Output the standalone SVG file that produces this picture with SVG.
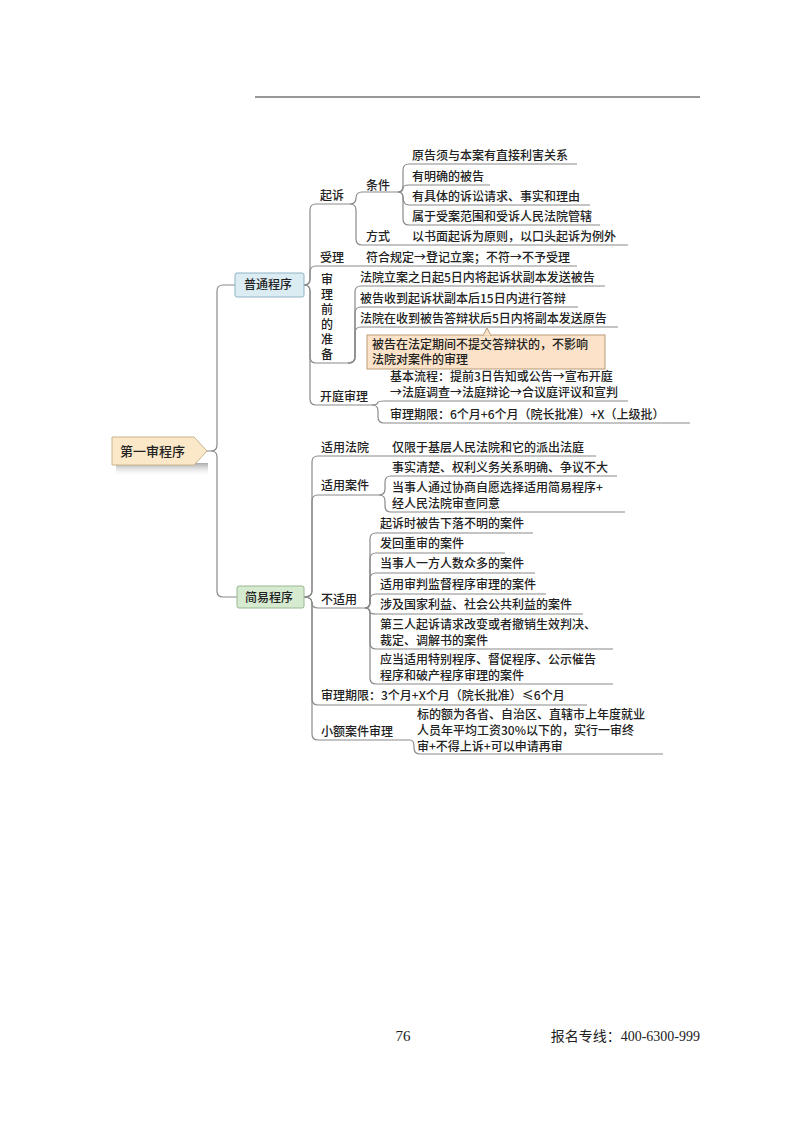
<svg xmlns="http://www.w3.org/2000/svg" width="800" height="1124" viewBox="0 0 800 1124">
<style>
text{font-family:"Noto Sans CJK SC","Noto Sans",sans-serif;font-size:12px;fill:#222;font-weight:500}
.c{fill:none;stroke:#8a8a8a;stroke-width:1.2}
</style>
<defs>
<linearGradient id="sh" x1="0" y1="0" x2="0" y2="1"><stop offset="0" stop-color="#aaa"/><stop offset="1" stop-color="#fff" stop-opacity="0"/></linearGradient>
</defs>
<rect width="800" height="1124" fill="#fff"/>
<line x1="255" y1="97" x2="700" y2="97" stroke="#333" stroke-width="1"/>
<g id="connectors">
<path class="c" d="M206 451 H211 Q217 451 217 445 V291 Q217 285 223 285 H235"/>
<path class="c" d="M211 451 Q217 451 217 457 V591 Q217 597 223 597 H237"/>
<path class="c" d="M304 285 Q310 285 310 279 V210 Q310 204 316 204 H350"/>
<path class="c" d="M304 285 Q310 285 310 279 V272 Q310 266 316 266 H577"/>
<path class="c" d="M304 285 Q310 285 310 291 V357 Q310 363 316 363 H348"/>
<path class="c" d="M304 285 Q310 285 310 291 V399 Q310 405 316 405 H372"/>
<path class="c" d="M350 204 Q356 204 356 198 Q356 192 362 192 H398"/>
<path class="c" d="M350 204 Q356 204 356 210 V239 Q356 245 362 245 H628"/>
<path class="c" d="M398 192 Q403 192 403 186 V170 Q403 164 409 164 H577"/>
<path class="c" d="M398 192 Q403 192 403 188 Q403 185 409 185 H490"/>
<path class="c" d="M398 192 Q403 192 403 197 Q403 205 409 205 H590"/>
<path class="c" d="M398 192 Q403 192 403 198 V219 Q403 225 409 225 H600"/>
<path class="c" d="M348 363 Q355 363 355 357 V292 Q355 286 361 286 H605"/>
<path class="c" d="M348 363 Q355 363 355 357 V313 Q355 307 361 307 H578"/>
<path class="c" d="M348 363 Q355 363 355 357 V333 Q355 327 361 327 H618"/>
<path class="c" d="M372 405 Q378 405 378 402 Q378 401 384 401 H628"/>
<path class="c" d="M372 405 Q378 405 378 411 V417 Q378 423 384 423 H690"/>
<path class="c" d="M304 597 Q312 597 312 591 V462 Q312 456 318 456 H596"/>
<path class="c" d="M304 597 Q312 597 312 591 V501 Q312 495 318 495 H379"/>
<path class="c" d="M304 597 Q312 597 312 603 Q312 608 318 608 H365"/>
<path class="c" d="M304 597 Q312 597 312 603 V699 Q312 705 318 705 H587"/>
<path class="c" d="M304 597 Q312 597 312 603 V734 Q312 740 318 740 H410"/>
<path class="c" d="M379 495 Q385 495 385 489 V482 Q385 476 391 476 H617"/>
<path class="c" d="M379 495 Q385 495 385 501 V506 Q385 512 391 512 H625"/>
<path class="c" d="M365 608 Q370 608 370 602 V539 Q370 533 376 533 H533"/>
<path class="c" d="M365 608 Q370 608 370 602 V559 Q370 553 376 553 H505"/>
<path class="c" d="M365 608 Q370 608 370 602 V579 Q370 573 376 573 H535"/>
<path class="c" d="M365 608 Q370 608 370 602 V600 Q370 594 376 594 H546"/>
<path class="c" d="M365 608 Q370 608 370 612 Q370 614 376 614 H583"/>
<path class="c" d="M365 608 Q370 608 370 614 V643 Q370 649 376 649 H613"/>
<path class="c" d="M365 608 Q370 608 370 614 V678 Q370 684 376 684 H613"/>
<path class="c" d="M410 740 Q414 740 414 746 V748 Q414 754 420 754 H663"/>
</g>
<g id="root">
<rect x="116" y="463" width="92" height="14" fill="url(#sh)"/>
<polygon points="112,437 194,437 207,451 194,465 112,465" fill="#fbe8c8" stroke="#c9b48e" stroke-width="1"/>
<text x="120" y="456" style="font-size:13px">第一审程序</text>
</g>
<g id="n-putong">
<rect x="235" y="273" width="69" height="24" rx="2" fill="#dcecf3" stroke="#8fb3c4"/>
<text x="244" y="289">普通程序</text>
</g>
<g id="n-jianyi">
<rect x="237" y="586" width="67" height="22" rx="2" fill="#d6ead0" stroke="#98b890"/>
<text x="245" y="602">简易程序</text>
</g>
<g id="n-qisu"><text x="320" y="200">起诉</text></g>
<g id="n-tiaojian"><text x="366" y="190">条件</text></g>
<g id="leaves1">
<text x="412" y="160">原告须与本案有直接利害关系</text>
<text x="412" y="181">有明确的被告</text>
<text x="412" y="201">有具体的诉讼请求、事实和理由</text>
<text x="412" y="221">属于受案范围和受诉人民法院管辖</text>
</g>
<g id="n-fangshi"><text x="366" y="241">方式</text><text x="412" y="241">以书面起诉为原则，以口头起诉为例外</text></g>
<g id="n-shouli"><text x="320" y="262">受理</text><text x="366" y="262">符合规定→登记立案；不符→不予受理</text></g>
<g id="n-zhunbei">
<text x="321" y="284">审</text><text x="321" y="299">理</text><text x="321" y="314">前</text><text x="321" y="329">的</text><text x="321" y="344">准</text><text x="321" y="359">备</text>
</g>
<g id="leaves2">
<text x="360" y="282">法院立案之日起5日内将起诉状副本发送被告</text>
<text x="360" y="303">被告收到起诉状副本后15日内进行答辩</text>
<text x="360" y="323">法院在收到被告答辩状后5日内将副本发送原告</text>
</g>
<g id="note">
<rect x="367" y="335" width="238" height="34" fill="#fbe2c8" stroke="#b89a78"/>
<polygon points="483,335.5 487,328 491,335.5" fill="#fbe2c8" stroke="#b89a78"/>
<line x1="483.5" y1="335" x2="490.5" y2="335" stroke="#fbe2c8" stroke-width="1.5"/>
<text x="372" y="349">被告在法定期间不提交答辩状的，不影响</text>
<text x="372" y="364">法院对案件的审理</text>
</g>
<g id="n-kaiting">
<text x="320" y="401">开庭审理</text>
<text x="390" y="381">基本流程：提前3日告知或公告→宣布开庭</text>
<text x="390" y="397">→法庭调查→法庭辩论→合议庭评议和宣判</text>
<text x="390" y="419">审理期限：6个月+6个月（院长批准）+X（上级批）</text>
</g>
<g id="n-fayuan"><text x="321" y="452">适用法院</text><text x="392" y="452">仅限于基层人民法院和它的派出法庭</text></g>
<g id="n-anjian">
<text x="321" y="490">适用案件</text>
<text x="392" y="472">事实清楚、权利义务关系明确、争议不大</text>
<text x="392" y="492">当事人通过协商自愿选择适用简易程序+</text>
<text x="392" y="508">经人民法院审查同意</text>
</g>
<g id="n-bushiyong">
<text x="321" y="604">不适用</text>
<text x="380" y="528">起诉时被告下落不明的案件</text>
<text x="380" y="548">发回重审的案件</text>
<text x="380" y="568">当事人一方人数众多的案件</text>
<text x="380" y="589">适用审判监督程序审理的案件</text>
<text x="380" y="609">涉及国家利益、社会公共利益的案件</text>
<text x="380" y="629">第三人起诉请求改变或者撤销生效判决、</text>
<text x="380" y="645">裁定、调解书的案件</text>
<text x="380" y="664">应当适用特别程序、督促程序、公示催告</text>
<text x="380" y="680">程序和破产程序审理的案件</text>
</g>
<g id="n-qixian"><text x="321" y="700">审理期限：3个月+X个月（院长批准）≤6个月</text></g>
<g id="n-xiaoe">
<text x="321" y="736">小额案件审理</text>
<text x="417" y="719">标的额为各省、自治区、直辖市上年度就业</text>
<text x="417" y="735">人员年平均工资30%以下的，实行一审终</text>
<text x="417" y="751">审+不得上诉+可以申请再审</text>
</g>
<text x="403" y="1041" text-anchor="middle" style="font-family:'Liberation Serif',serif;font-size:15px;font-weight:400">76</text>
<text x="700" y="1041" text-anchor="end" style="font-size:14px;font-weight:400">报名专线：<tspan style="font-family:'Liberation Serif',serif">400-6300-999</tspan></text>
</svg>
